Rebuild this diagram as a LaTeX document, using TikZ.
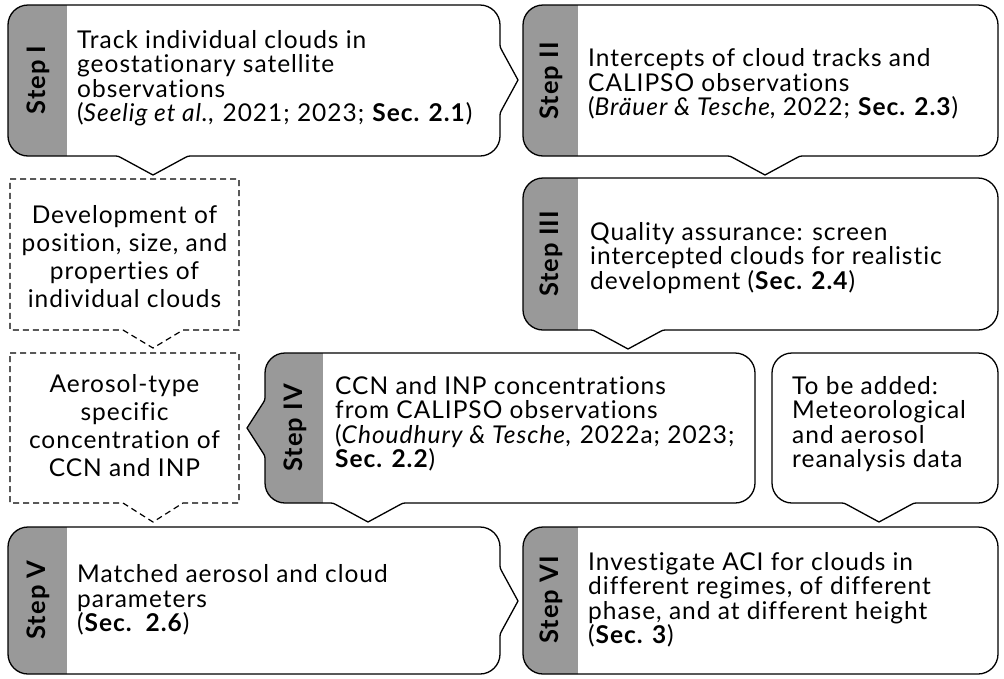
\documentclass[tikz,border=0pt]{standalone}
\usepackage{fontspec}
\setmainfont{Lato}[LetterSpace=4,Ligatures={NoCommon,NoDiscretionary}]
\usetikzlibrary{calc}
\definecolor{tabgray}{RGB}{153,153,153}
% rounded corner at #1 between #2 (previous) and #3 (next), size #4
\newcommand{\crn}[4]{-- ($(#1)!#4!(#2)$) .. controls (#1) .. ($(#1)!#4!(#3)$)}
% box outline: L T R B, right pointer, bottom pointer, left pointer
\newcommand{\shp}[7]{(#1+20,#2) -- (#3-20,#2) .. controls (#3-9,#2) and (#3,#2+9) .. (#3,#2+20) #5 -- (#3,#4-20) .. controls (#3,#4-9) and (#3-9,#4) .. (#3-20,#4) #6 -- (#1+20,#4) .. controls (#1+9,#4) and (#1,#4-9) .. (#1,#4-20) #7 -- (#1,#2+20) .. controls (#1,#2+9) and (#1+9,#2) .. (#1+20,#2) -- cycle}
% right pointer: R cy T B
\newcommand{\rp}[4]{\crn{#1,#2-33}{#1,#3}{#1+18,#2}{5pt} -- (#1+18,#2) \crn{#1,#2+33}{#1+18,#2}{#1,#4}{5pt}}
% bottom pointer: px B R L
\newcommand{\bp}[4]{\crn{#1+35,#2}{#3,#2}{#1,#2+19}{5pt} -- (#1,#2+19) \crn{#1-35,#2}{#1,#2+19}{#4,#2}{5pt}}
% left pointer: L cy B T
\newcommand{\lp}[4]{\crn{#1,#2+28}{#1,#3}{#1-18,#2}{5pt} -- (#1-18,#2) \crn{#1,#2-28}{#1-18,#2}{#1,#4}{5pt}}
\newcommand{\callout}[8]{%
  \fill[white] \shp{#1}{#2}{#3}{#4}{#5}{#6}{#7};
  \begin{scope}\clip \shp{#1}{#2}{#3}{#4}{#5}{#6}{#7};
  \fill[tabgray] (#1-40,#2-5) rectangle (#8,#4+25);\end{scope}
  \draw[outl] \shp{#1}{#2}{#3}{#4}{#5}{#6}{#7};}
\begin{document}
\begin{tikzpicture}[x=1pt,y=-1pt,
  outl/.style={line width=1.3pt,line join=round},
  txt/.style={anchor=west,align=left,inner sep=0pt,font=\fontsize{24.5}{24.5}\selectfont},
  ctxt/.style={align=center,inner sep=0pt,font=\fontsize{24.5}{28}\selectfont},
  steplab/.style={rotate=90,inner sep=0pt,font=\fontsize{25.5}{26}\selectfont\bfseries},
  dbox/.style={line width=1.2pt,dash pattern=on 6pt off 4pt}]
\useasboundingbox (0,0) rectangle (1004,678);
% Step I
\callout{8}{5}{500}{156}{\rp{500}{80}{5}{156}}{\bp{153}{156}{500}{8}}{}{67}
% Step II
\callout{523}{5}{998}{156}{}{\bp{765}{156}{998}{523}}{}{578}
% Step III
\callout{523}{178}{998}{330}{}{\bp{628}{330}{998}{523}}{}{578}
% Step IV
\callout{265}{353}{755}{503}{}{\bp{368}{503}{755}{265}}{\lp{265}{428}{503}{353}}{323}
% To be added
\draw[outl] \shp{772}{353}{998}{503}{}{\bp{879}{503}{998}{772}}{};
% Step V
\callout{8}{527}{500}{674}{\rp{500}{601}{527}{674}}{}{}{67}
% Step VI
\callout{523}{527}{998}{674}{}{}{}{578}
% dashed boxes
\draw[dbox] (10,179) -- (239,179) -- (239,330) -- (183,330) -- (153,348) -- (123,330) -- (10,330) -- cycle;
\draw[dbox] (10,353) -- (239,353) -- (239,503) -- (183,503) -- (153,522) -- (123,503) -- (10,503) -- cycle;
% step labels
\node[steplab] (s1) at (38.5,80) {Step I};
\node[steplab] (s2) at (551.5,81) {Step II};
\node[steplab] (s3) at (551.5,254) {Step III};
\node[steplab] (s4) at (295,428) {Step IV};
\node[steplab] (s5) at (38.5,600) {Step V};
\node[steplab] (s6) at (551.5,600) {Step VI};
% texts
\node[txt] (t1) at (77,78) {Track individual clouds in\\geostationary satellite\\observations\\(\textit{Seelig et al.,} 2021; 2023; \textbf{Sec. 2.1})};
\node[txt] (t2) at (588,84) {Intercepts of cloud tracks and\\CALIPSO observations\\(\textit{Bräuer \& Tesche}, 2022; \textbf{Sec. 2.3})};
\node[txt] (t3) at (590,258) {Quality assurance: screen\\intercepted clouds for realistic\\development (\textbf{Sec. 2.4})};
\node[txt] (t4) at (335,424) {CCN and INP concentrations\\from CALIPSO observations\\(\textit{Choudhury \& Tesche,} 2022a; 2023;\\\textbf{Sec. 2.2})};
\node[txt] (t5) at (792,424) {To be added:\\Meteorological\\and aerosol\\reanalysis data};
\node[txt] (t6) at (77,600) {Matched aerosol and cloud\\parameters\\(\textbf{Sec.~~2.6})};
\node[txt] (t7) at (588,600) {Investigate ACI for clouds in\\different regimes, of different\\phase, and at different height\\(\textbf{Sec. 3})};
\node[ctxt] (d1) at (124.5,257) {Development of\\position, size, and\\properties of\\individual clouds};
\node[ctxt] (d2) at (124.5,426) {Aerosol-type\\specific\\concentration of\\CCN and INP};
\end{tikzpicture}
\end{document}
